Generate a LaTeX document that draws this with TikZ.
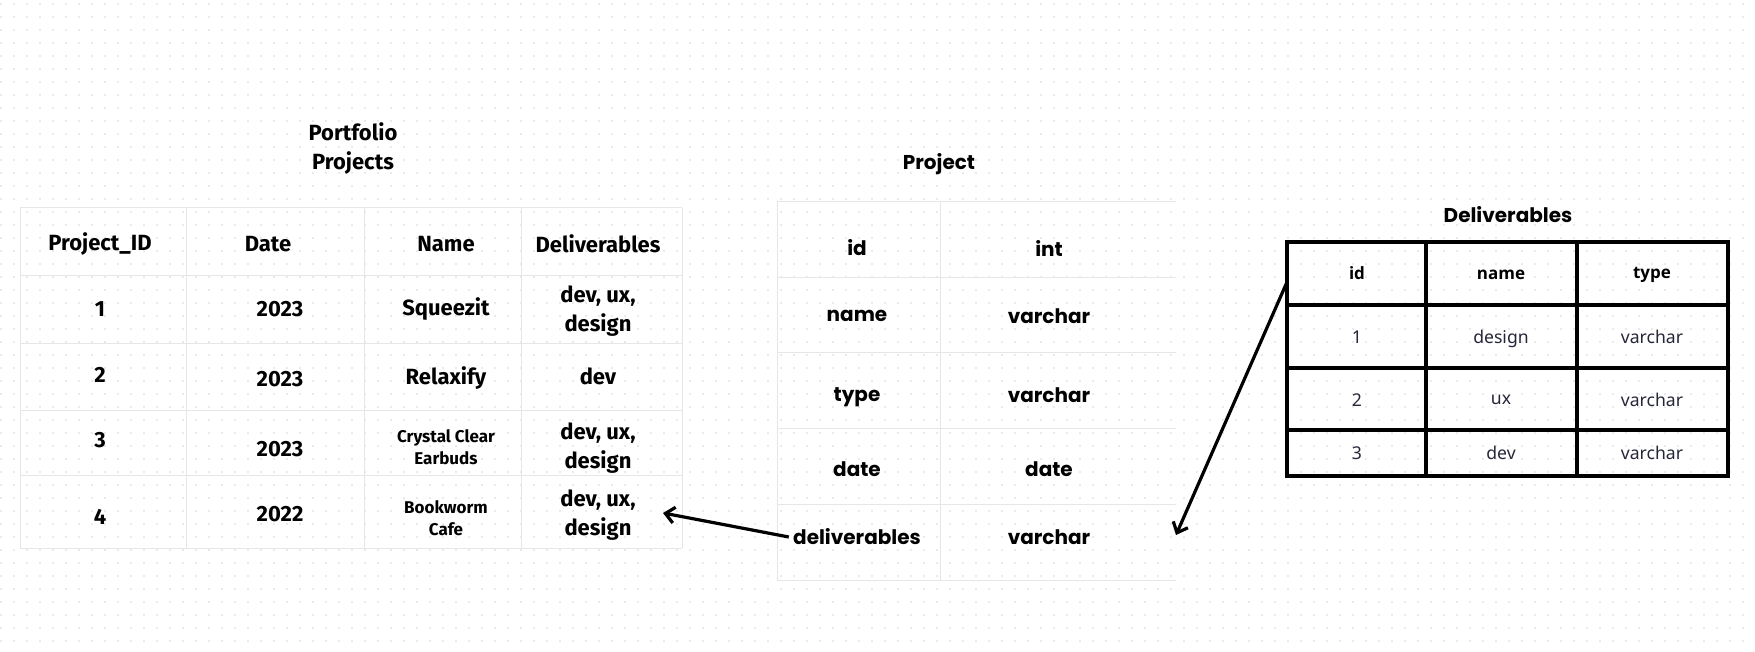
\documentclass[tikz,border=0pt]{standalone}
\usepackage{fontspec}
\setmainfont{Fira Sans}
\newfontfamily\leftfont{Fira Sans}
\newfontfamily\midfont{Poppins}
\newfontfamily\rightfont{Noto Sans}
\newfontfamily\headfont{Open Sans}
\usetikzlibrary{arrows.meta}
\definecolor{dotgray}{RGB}{226,226,230}
\definecolor{rulegray}{RGB}{230,230,230}
\definecolor{bodyink}{RGB}{38,38,58}
\tikzset{
  leftcell/.style={font=\leftfont\bfseries\fontsize{11}{14.5}\selectfont, align=center, inner sep=1pt},
  smallcell/.style={font=\leftfont\bfseries\fontsize{8.5}{10.7}\selectfont, align=center, inner sep=1pt},
  midcell/.style={font=\midfont\bfseries\fontsize{10}{12}\selectfont, inner sep=2pt},
  headcell/.style={font=\headfont\bfseries\fontsize{8.5}{10}\selectfont, inner sep=1pt},
  bodycell/.style={font=\rightfont\fontsize{8.8}{10}\selectfont, text=bodyink, inner sep=1pt},
  softrule/.style={draw=rulegray, line width=0.5pt},
  boldrule/.style={draw=black, line width=1.6pt},
  link/.style={-{Straight Barb[length=4.5pt,width=8pt]}, line width=1.6pt},
}

\begin{document}
\begin{tikzpicture}[x=0.5pt,y=-0.5pt]
  \useasboundingbox (0,0) rectangle (1755,652);
  % dotted canvas
  \foreach \y in {4,17,...,652}
    \draw[dotgray, line width=1.2pt, line cap=round, dash pattern=on 0pt off 6.5pt] (1,\y) -- (1755,\y);

  % portfolio projects table
  \foreach \x in {20,186,364,521,682} \draw[softrule] (\x,208) -- (\x,548);
  \foreach \y in {208,275,343,410,475,548} \draw[softrule] (20,\y) -- (682,\y);
  \node[leftcell] (ptitle) at (353,149) {Portfolio\\Projects};
  \node[leftcell] (hid) at (100,244) {Project\_ID};
  \node[leftcell] (hdate) at (268,244) {Date};
  \node[leftcell] (hname) at (446,244) {Name};
  \node[leftcell] (hdel) at (598,244) {Deliverables};
  \node[leftcell] (id1) at (100,309) {1};
  \node[leftcell] (yr1) at (280,309) {2023};
  \node[leftcell] (nm1) at (446,309) {Squeezit};
  \node[leftcell] (dl1) at (598,311) {dev, ux,\\design};
  \node[leftcell] (id2) at (100,375) {2};
  \node[leftcell] (yr2) at (280,379) {2023};
  \node[leftcell] (nm2) at (446,378) {Relaxify};
  \node[leftcell] (dl2) at (598,376) {dev};
  \node[leftcell] (id3) at (100,440) {3};
  \node[leftcell] (yr3) at (280,449) {2023};
  \node[smallcell] (nm3) at (446,447) {Crystal Clear\\Earbuds};
  \node[leftcell] (dl3) at (598,448) {dev, ux,\\design};
  \node[leftcell] (id4) at (100,517) {4};
  \node[leftcell] (yr4) at (280,514) {2022};
  \node[smallcell] (nm4) at (446,518) {Bookworm\\Cafe};
  \node[leftcell] (dl4) at (598,515) {dev, ux,\\design};

  % project table
  \foreach \x in {777,940} \draw[softrule] (\x,202) -- (\x,580);
  \foreach \y in {202,277,352,428,504,580} \draw[softrule] (777,\y) -- (1176,\y);
  \node[midcell] (ttitle) at (939,164) {Project};
  \node[midcell] (pid) at (857,248) {id};
  \node[midcell] (pidt) at (1049,248) {int};
  \node[midcell] (pname) at (857,316) {name};
  \node[midcell] (pnamet) at (1049,316) {varchar};
  \node[midcell] (ptype) at (857,397) {type};
  \node[midcell] (ptypet) at (1049,395) {varchar};
  \node[midcell] (pdate) at (857,469) {date};
  \node[midcell] (pdatet) at (1049,469) {date};
  \node[midcell] (pdeliv) at (857,537) {deliverables};
  \node[midcell] (pdelivt) at (1049,537) {varchar};

  % deliverables table
  \draw[boldrule] (1287,242) rectangle (1728,476);
  \foreach \x in {1426,1577} \draw[boldrule] (\x,242) -- (\x,476);
  \foreach \y in {305,368,430} \draw[boldrule] (1287,\y) -- (1728,\y);
  \node[midcell] (dtitle) at (1508,215) {Deliverables};
  \node[headcell] (rh1) at (1357,273) {id};
  \node[headcell] (rh2) at (1501,275) {name};
  \node[headcell] (rh3) at (1652,275) {type};
  \node[bodycell] (r1a) at (1357,337) {1};
  \node[bodycell] (r1b) at (1501,339) {design};
  \node[bodycell] (r1c) at (1652,337) {varchar};
  \node[bodycell] (r2a) at (1357,400) {2};
  \node[bodycell] (r2b) at (1501,400) {ux};
  \node[bodycell] (r2c) at (1652,400) {varchar};
  \node[bodycell] (r3a) at (1357,453) {3};
  \node[bodycell] (r3b) at (1501,453) {dev};
  \node[bodycell] (r3c) at (1652,453) {varchar};

  % links
  \coordinate (tipA) at (663,513);
  \coordinate (tipB) at (1176,535);
  \coordinate (dedge) at (1287,282);
  \draw[link] (pdeliv.west) -- (tipA);
  \draw[link] (dedge) -- (tipB);
\end{tikzpicture}
\end{document}
